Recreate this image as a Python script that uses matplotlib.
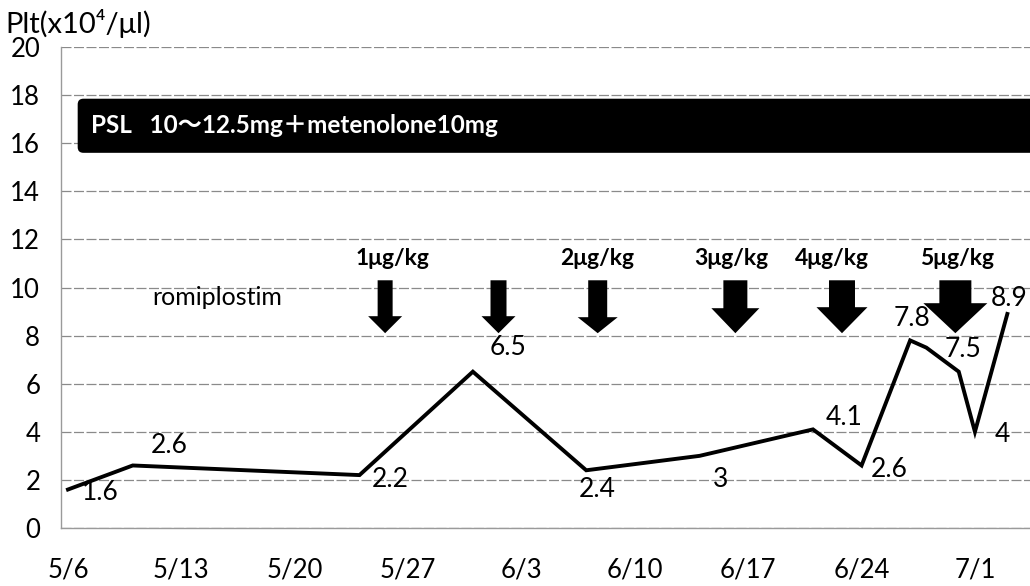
from datetime import datetime

import matplotlib
matplotlib.use("Agg")
import matplotlib.pyplot as plt
import matplotlib.dates as mdates
from matplotlib.patches import FancyArrow, FancyBboxPatch

plt.rcParams["font.family"] = ["Lato", "Noto Sans CJK JP", "DejaVu Sans"]

# platelet counts (x10^4/ul) by date
dates = ["2011-05-06", "2011-05-10", "2011-05-24", "2011-05-31", "2011-06-07",
         "2011-06-14", "2011-06-21", "2011-06-24", "2011-06-27", "2011-06-28",
         "2011-06-30", "2011-07-01", "2011-07-03"]
plt_values = [1.6, 2.6, 2.2, 6.5, 2.4, 3.0, 4.1, 2.6, 7.8, 7.5, 6.5, 4.0, 8.9]
point_labels = ["1.6", "2.6", "2.2", "6.5", "2.4", "3", "4.1", "2.6", "7.8",
                "7.5", "", "4", "8.9"]

tick_dates = ["2011-05-06", "2011-05-13", "2011-05-20", "2011-05-27", "2011-06-03",
              "2011-06-10", "2011-06-17", "2011-06-24", "2011-07-01"]
tick_labels = ["5/6", "5/13", "5/20", "5/27", "6/3", "6/10", "6/17", "6/24", "7/1"]

# romiplostim injections (dose label, blank = same dose again)
dose_dates = ["2011-05-25 14:00", "2011-06-01 14:00", "2011-06-07 17:00",
              "2011-06-16 05:00", "2011-06-22 19:00", "2011-06-29 19:00"]
dose_labels = ["1μg/kg", "", "2μg/kg", "3μg/kg", "4μg/kg", "5μg/kg"]

# label offsets in pixels (dx right, dy down)
label_offsets = [(32, 3), (36, -20), (31, 4), (35, -24), (11, 19), (21, 24),
                 (31, -12), (28, 4), (2, -22), (37, 2), (0, 0), (27, 3), (2, -15)]
# arrow shapes in pixels: shaft width, head width, head length
arrow_px = [(15, 34, 17), (16, 34, 17), (19, 40, 16), (24, 48, 25),
            (26, 51, 26), (32, 64, 30)]
dose_label_dx = [7, 0, -1, -4, -10, 2]

PX_DAY = 16.2      # pixels per day
PX_UNIT = 24.05    # pixels per y unit


def num(s):
    return mdates.date2num(datetime.fromisoformat(s))


x = [num(d) for d in dates]
x0 = num("2011-05-06")

fig = plt.figure(figsize=(10.3, 5.86), dpi=100)
ax = fig.add_axes([61 / 1030, 58 / 586, 969 / 1030, 481 / 586])

ax.set_xlim(x0 - 0.43, x0 + 59.4)
ax.set_ylim(0, 20)
ax.set_yticks(range(0, 21, 2))
ax.set_xticks([num(d) for d in tick_dates])
ax.set_xticklabels(tick_labels)
ax.tick_params(axis="both", length=0, labelsize=18.5)
ax.tick_params(axis="x", pad=21)
ax.tick_params(axis="y", pad=15)
ax.grid(axis="y", color="#8a8a8a", linewidth=0.9, linestyle=(0, (8, 2)))
for side in ["top", "right"]:
    ax.spines[side].set_visible(False)
for side in ["left", "bottom"]:
    ax.spines[side].set_color("#9a9a9a")
    ax.spines[side].set_linewidth(1.0)

# PSL + metenolone bar
bar = FancyBboxPatch((x0 + 0.6, 15.6), 62, 2.25,
                     boxstyle="round,pad=0,rounding_size=0.35",
                     mutation_aspect=PX_DAY / PX_UNIT,
                     facecolor="black", edgecolor="none", zorder=3, clip_on=True)
ax.add_patch(bar)
ax.text(x0 + 1.45, 16.72, "PSL   10～12.5mg＋metenolone10mg", color="white",
        fontsize=17.5, fontweight="bold", va="center", ha="left", zorder=4)

# romiplostim arrows
ax.text(x0 + 5.2, 9.6, "romiplostim", fontsize=18, va="center", ha="left", zorder=4)
for d, lab, (sw, hw, hl), dx in zip(dose_dates, dose_labels, arrow_px, dose_label_dx):
    xc = num(d)
    top, tip = 10.3, 8.1
    ax.add_patch(FancyArrow(xc, top, 0, tip - top, width=sw / PX_DAY,
                            head_width=hw / PX_DAY, head_length=hl / PX_UNIT,
                            length_includes_head=True, facecolor="black",
                            edgecolor="none", zorder=4))
    if lab:
        ax.text(xc + dx / PX_DAY, 11.2, lab, fontsize=16.5, fontweight="bold",
                ha="center", va="center", zorder=4)

ax.plot(x, plt_values, color="black", linewidth=2.8, solid_joinstyle="miter",
        zorder=5, clip_on=False)
for xi, yi, lab, (dx, dy) in zip(x, plt_values, point_labels, label_offsets):
    if lab:
        ax.annotate(lab, (xi, yi), xytext=(dx * 0.72, -dy * 0.72),
                    textcoords="offset points", ha="center", va="center",
                    fontsize=19, zorder=6)

fig.text(5 / 1030, 1 - 23 / 586, "Plt(x10⁴/μl)", fontsize=21, ha="left", va="center")

fig.savefig("out.png", dpi=100, facecolor="white")
